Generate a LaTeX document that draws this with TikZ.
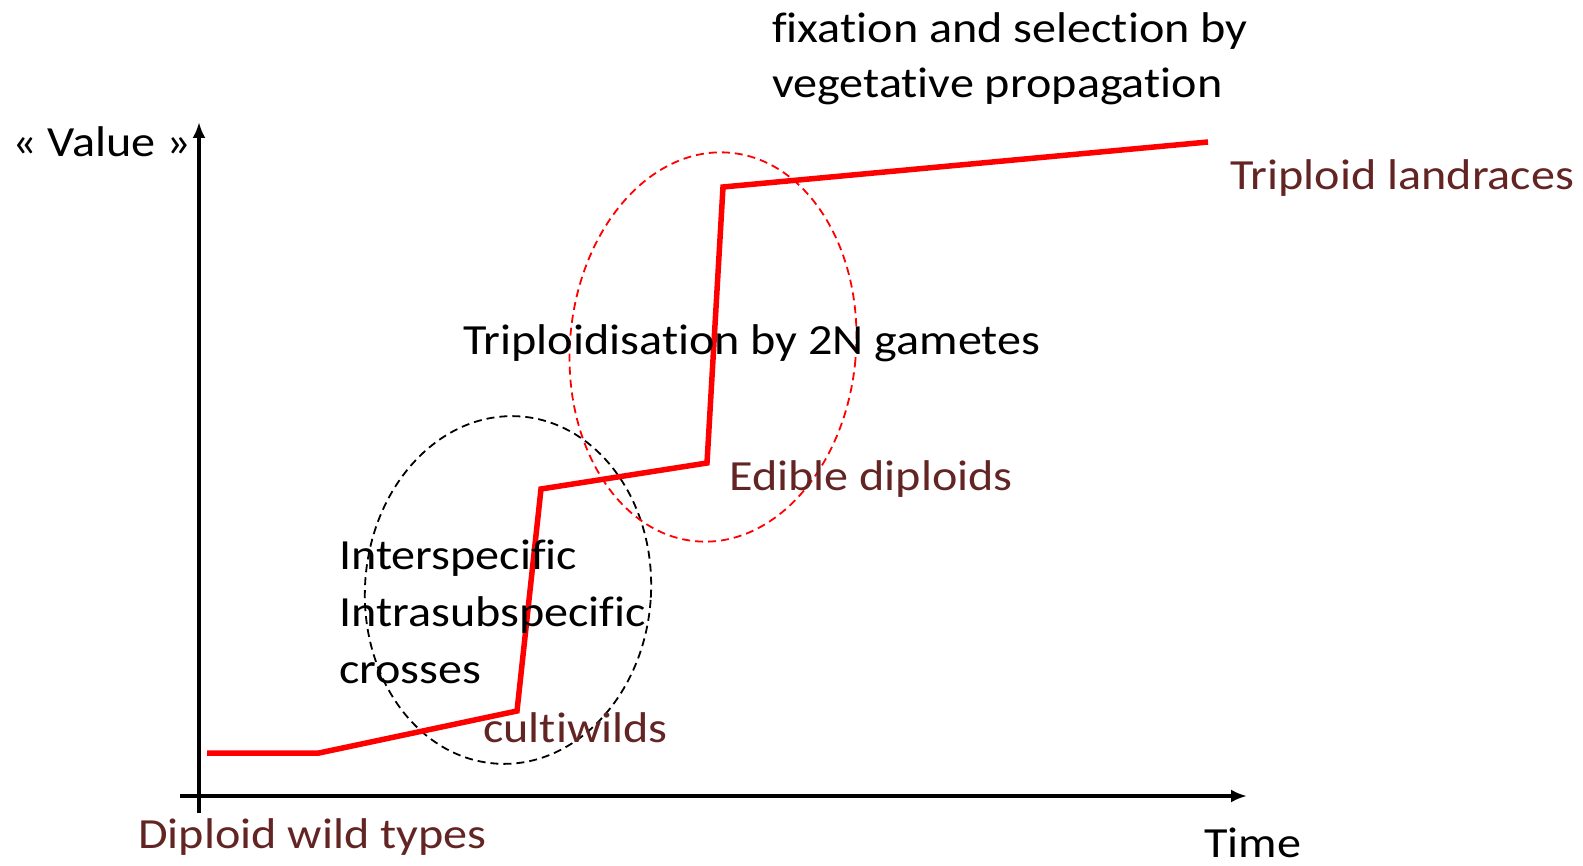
\documentclass[tikz,border=0pt]{standalone}
\usepackage{fontspec}
\setmainfont{Carlito}[FakeStretch=1.12,Ligatures=NoCommon]
\usetikzlibrary{arrows.meta}
\definecolor{labelred}{HTML}{632523}
\begin{document}
\begin{tikzpicture}[x=1pt,y=-1pt,
    txt/.style={anchor=base west,inner sep=0pt,align=left,font=\fontsize{43}{56}\selectfont},
    stage/.style={txt,text=labelred},
    axis/.style={draw=black,line width=3.5pt,-{Latex[length=16pt,width=13pt]}},
    value/.style={draw=red,line width=5.5pt,line join=miter},
    zone/.style={dashed,line width=1.8pt,dash pattern=on 8pt off 5pt}]
    \useasboundingbox (0,0) rectangle (1583,866);
    % axes
    \coordinate (o) at (199,813);
    \coordinate (ytip) at (199,122);
    \coordinate (xstart) at (180,796);
    \coordinate (xtip) at (1247,796);
    \draw[axis] (o) -- (ytip);
    \draw[axis] (xstart) -- (xtip);
    % ellipses
    \draw[zone,black,rotate around={-4:(508,590)}] (508,590) ellipse (143 and 174);
    \draw[zone,red,rotate around={-5:(713,347)}] (713,347) ellipse (143 and 195);
    % value curve
    \coordinate (p0) at (207,753);
    \coordinate (p1) at (319,753);
    \coordinate (p2) at (517,711);
    \coordinate (p3) at (541,489);
    \coordinate (p4) at (707,463);
    \coordinate (p5) at (723,187);
    \coordinate (p6) at (1208,142);
    \draw[value] (p0) -- (p1) -- (p2) -- (p3) -- (p4) -- (p5) -- (p6);
    % labels (base = last line)
    \node[txt] (value) at (12,157) {« Value »};
    \node[txt] (time) at (1204,857) {Time};
    \node[txt,font=\fontsize{43}{55}\selectfont] (fixation) at (772,98) {fixation and selection by\\vegetative propagation};
    \node[txt] (triploidisation) at (463,355) {Triploidisation by 2N gametes};
    \node[txt,font=\fontsize{43}{57}\selectfont] (crosses) at (339,683) {Interspecific\\Intrasubspecific\\crosses};
    \node[stage] (landraces) at (1230,190) {Triploid landraces};
    \node[stage] (edible) at (729,490) {Edible diploids};
    \node[stage] (cultiwilds) at (483,742) {cultiwilds};
    \node[stage] (wild) at (138,848) {Diploid wild types};
\end{tikzpicture}
\end{document}
